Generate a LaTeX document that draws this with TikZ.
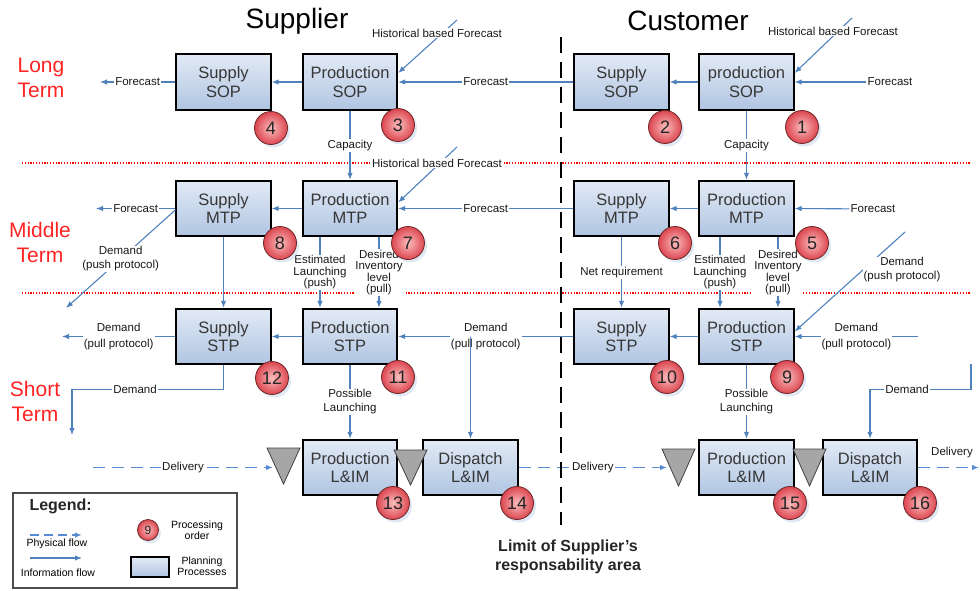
\documentclass[tikz,border=0pt]{standalone}
\usepackage{fontspec}
\setmainfont{Liberation Sans}
\usetikzlibrary{arrows.meta,shadows,calc}
\definecolor{ablue}{RGB}{79,129,189}
\definecolor{pblue}{RGB}{88,140,210}
\definecolor{boxtop}{RGB}{226,234,245}
\definecolor{boxbot}{RGB}{176,197,226}
\definecolor{numin}{RGB}{250,190,190}
\definecolor{numout}{RGB}{220,70,80}
\definecolor{numdraw}{RGB}{110,40,40}
\definecolor{txtgray}{RGB}{55,55,55}
\definecolor{trigray}{RGB}{166,166,166}
\definecolor{termred}{RGB}{255,35,35}
\newcommand{\ffBox}{\fontsize{16.5}{18.5}\selectfont}
\newcommand{\ffLbl}{\fontsize{11.5}{14}\selectfont}
\newcommand{\ffLblT}{\fontsize{11.5}{11.5}\selectfont}
\newcommand{\ffLblW}{\fontsize{11.5}{16}\selectfont}
\newcommand{\ffNum}{\fontsize{18}{18}\selectfont}
\newcommand{\ffNumS}{\fontsize{12}{12}\selectfont}
\newcommand{\ffTitle}{\fontsize{28}{30}\selectfont}
\newcommand{\ffTerm}{\fontsize{21}{25}\selectfont}
\newcommand{\ffLim}{\fontsize{16}{19}\selectfont\bfseries}
\newcommand{\ffLegT}{\fontsize{16}{18}\selectfont\bfseries}
\newcommand{\ffLeg}{\fontsize{10.5}{11.5}\selectfont}
\begin{document}
\begin{tikzpicture}[x=1pt,y=-1pt,
  info/.style={draw=ablue,line width=1.1pt,-{Latex[length=7pt,width=5.5pt]}},
  phys/.style={info,draw=pblue,line width=1.4pt,dash pattern=on 12pt off 7pt},
  lbl/.style={font=\ffLbl,fill=white,inner sep=1pt,align=center,text=black!90},
  lblt/.style={lbl,font=\ffLblT},
  lblw/.style={lbl,font=\ffLblW},
  pbox/.style={draw=black,line width=1.8pt,top color=boxtop,bottom color=boxbot,minimum width=94.5pt,minimum height=55.5pt,inner sep=0pt,align=center,font=\ffBox,text=txtgray},
  num/.style={circle,draw=numdraw,line width=0.8pt,inner color=numin,outer color=numout,minimum size=33pt,inner sep=0pt,font=\ffNum,text=black!85,drop shadow={fill=ablue!35,opacity=0.5,shadow xshift=2.5pt,shadow yshift=-3pt}},
  term/.style={font=\ffTerm,text=termred,align=center},
  tri/.style={fill=trigray,draw=gray!50!black,line width=0.8pt},
  sepline/.style={red,line width=1.2pt,dash pattern=on 1.2pt off 1.6pt},
  limit/.style={black,line width=2.2pt,dash pattern=on 16pt off 9pt},
]
\useasboundingbox (0,0) rectangle (980,591);

% separators
\draw[sepline] (22,163) -- (970,163);
\draw[sepline] (22,293) -- (970,293);

% titles and terms
\node[font=\ffTitle] (tSup) at (297,21) {Supplier};
\node[font=\ffTitle] (tCus) at (688,21) {Customer};
\node[term] (tLong) at (41,78) {Long\\Term};
\node[term] (tMid) at (40,242) {Middle\\Term};
\node[term] (tShort) at (35,401) {Short\\Term};

% boxes
\node[pbox] (sSupSOP) at (223.5,82) {Supply\\SOP};
\node[pbox] (sProdSOP) at (350,82) {Production\\SOP};
\node[pbox] (cSupSOP) at (621.5,82) {Supply\\SOP};
\node[pbox] (cProdSOP) at (746.5,82) {production\\SOP};
\node[pbox] (sSupMTP) at (223.5,208.5) {Supply\\MTP};
\node[pbox] (sProdMTP) at (350,208.5) {Production\\MTP};
\node[pbox] (cSupMTP) at (621.5,208.5) {Supply\\MTP};
\node[pbox] (cProdMTP) at (746.5,208.5) {Production\\MTP};
\node[pbox] (sSupSTP) at (223.5,336.5) {Supply\\STP};
\node[pbox] (sProdSTP) at (350,336.5) {Production\\STP};
\node[pbox] (cSupSTP) at (621.5,336.5) {Supply\\STP};
\node[pbox] (cProdSTP) at (746.5,336.5) {Production\\STP};
\node[pbox] (sProdLIM) at (350,467.5) {Production\\L\&IM};
\node[pbox] (sDisp) at (470.5,467.5) {Dispatch\\L\&IM};
\node[pbox] (cProdLIM) at (746.5,467.5) {Production\\L\&IM};
\node[pbox] (cDisp) at (870,467.5) {Dispatch\\L\&IM};

% ---- Long term
\coordinate (fcL1) at (100,82);
\draw[info] (sSupSOP.west) -- node[lbl]{Forecast} (fcL1);
\draw[info] (sProdSOP.west) -- (sSupSOP.east);
\draw[info] (cSupSOP.west) -- node[lbl]{Forecast} (sProdSOP.east);
\coordinate (hfS1) at (457,20);
\draw[info] (hfS1) -- ([yshift=9pt]sProdSOP.east);
\node[lbl] (hfS1L) at (437,33) {Historical based Forecast};
\draw[info] (sProdSOP.south) -- node[lbl]{Capacity} (sProdMTP.north);
\draw[info] (cProdSOP.west) -- (cSupSOP.east);
\node[lbl] (cfcL) at (890,82) {Forecast};
\draw[info] (cfcL) -- (cProdSOP.east);
\coordinate (hfC1) at (852,18);
\draw[info] (hfC1) -- ([yshift=9pt]cProdSOP.east);
\node[lbl] (hfC1L) at (833,31) {Historical based Forecast};
\draw[info] (cProdSOP.south) -- node[lbl]{Capacity} (cProdMTP.north);

% ---- Middle term
\coordinate (fcM1) at (96,208.5);
\draw[info] (sSupMTP.west) -- node[lbl]{Forecast} (fcM1);
\draw[info] (sProdMTP.west) -- (sSupMTP.east);
\draw[info] (cSupMTP.west) -- node[lbl]{Forecast} (sProdMTP.east);
\coordinate (hfS2) at (457,147);
\draw[info] (hfS2) -- ([yshift=6pt]sProdMTP.east);
\node[lbl] (hfS2L) at (437,163) {Historical based Forecast};
\coordinate (dpS) at (66,308);
\draw[info] ([yshift=-1.5pt]sSupMTP.west) -- node[lbl]{Demand\\(push protocol)} (dpS);
\draw[info] (sSupMTP.south) -- (sSupSTP.north);
\draw[info] ([xshift=-30pt]sProdMTP.south) -- node[lblt]{Estimated\\Launching\\(push)} ([xshift=-30pt]sProdSTP.north);
\draw[info] ([xshift=29pt]sProdMTP.south) -- node[lblt]{Desired\\Inventory\\level\\(pull)} ([xshift=29pt]sProdSTP.north);
\draw[info] (cProdMTP.west) -- (cSupMTP.east);
\node[lbl] (cfcM) at (873,209) {Forecast};
\draw[info] (cfcM) -- (cProdMTP.east);
\draw[info] (cSupMTP.south) -- node[lbl]{Net requirement} (cSupSTP.north);
\draw[info] ([xshift=-26.5pt]cProdMTP.south) -- node[lblt]{Estimated\\Launching\\(push)} ([xshift=-26.5pt]cProdSTP.north);
\draw[info] ([xshift=31.5pt]cProdMTP.south) -- node[lblt]{Desired\\Inventory\\level\\(pull)} ([xshift=31.5pt]cProdSTP.north);
\coordinate (dpC) at (905,232);
\draw[info] (dpC) -- ([yshift=5pt]cProdSTP.east);
\node[lbl] (dpCL) at (902,270) {Demand\\(push protocol)};

% ---- Short term
\coordinate (dlS) at (62,336.5);
\draw[info] (sSupSTP.west) -- node[lblw]{Demand\\(pull protocol)} (dlS);
\draw[info] (sProdSTP.west) -- (sSupSTP.east);
\draw[info] (cSupSTP.west) -- node[lblw]{Demand\\(pull protocol)} (sProdSTP.east);
\draw[info] (sDisp.north |- sProdSTP.east) -- (sDisp.north);
\coordinate (dsA) at (72,389.5);
\coordinate (dsB) at (72,435);
\draw[info] (sSupSTP.south) |- (dsA) -- (dsB);
\node[lbl] (dsL) at (135,389.5) {Demand};
\draw[info] (sProdSTP.south) -- node[lbl]{Possible\\Launching} (sProdLIM.north);
\draw[info] (cProdSTP.west) -- (cSupSTP.east);
\coordinate (dlC) at (918,336.5);
\draw[info] (dlC) -- node[lblw]{Demand\\(pull protocol)} (cProdSTP.east);
\coordinate (dcA) at (971,364);
\coordinate (dcB) at (971,389.5);
\draw[info] (dcA) -- (dcB) -| (cDisp.north);
\node[lbl] (dcL) at (907,389.5) {Demand};
\draw[info] (cProdSTP.south) -- node[lbl]{Possible\\Launching} (cProdLIM.north);

% ---- L&IM row
\coordinate (dv0) at (93,467.5);
\coordinate (t1w) at (273,467.5);
\draw[phys] (dv0) -- node[lbl]{Delivery} (t1w);
\coordinate (t3w) at (667,467.5);
\draw[phys] (sDisp.east) -- node[lbl]{Delivery} (t3w);
\coordinate (dvE) at (979,467.5);
\draw[phys] (cDisp.east) -- (dvE);
\node[lbl,fill=none] (dvEL) at (952,453) {Delivery};
\draw[tri] (267,448) -- (300,448) -- (283.5,484) -- cycle;
\draw[tri] (394,450) -- (427,450) -- (410.5,485) -- cycle;
\draw[tri] (662,449) -- (695,449) -- (678.5,486) -- cycle;
\draw[tri] (793,449) -- (826,449) -- (809.5,486) -- cycle;

% limit line
\draw[limit] (561,37) -- (561,525);
\node[font=\ffLim,align=center,text=black!85] (limL) at (568,557) {Limit of Supplier’s\\responsability area};

% numbers
\node[num] (n1) at (802,127) {1};
\node[num] (n2) at (665,127) {2};
\node[num] (n3) at (398,125) {3};
\node[num] (n4) at (271,128) {4};
\node[num] (n5) at (812,243) {5};
\node[num] (n6) at (675,243) {6};
\node[num] (n7) at (408,243) {7};
\node[num] (n8) at (280,243) {8};
\node[num] (n9) at (787,377) {9};
\node[num] (n10) at (667,377) {10};
\node[num] (n11) at (398,377) {11};
\node[num] (n12) at (272,378) {12};
\node[num] (n13) at (393,503) {13};
\node[num] (n14) at (517,503) {14};
\node[num] (n15) at (790,503) {15};
\node[num] (n16) at (920,503) {16};

% legend
\node[draw=black!70,line width=1.2pt,minimum width=224pt,minimum height=95pt,inner sep=0pt] (leg) at (125,540.5) {};
\node[font=\ffLegT,anchor=west,text=black!85] (legT) at (26,506) {Legend:};
\coordinate (lp1) at (30,535);
\coordinate (lp2) at (82,535);
\draw[phys,dash pattern=on 9pt off 5pt] (lp1) -- (lp2);
\node[font=\ffLeg] (lpT) at (57,544) {Physical flow};
\coordinate (li1) at (30,558);
\coordinate (li2) at (82,558);
\draw[info] (li1) -- (li2);
\node[font=\ffLeg] (liT) at (58,573) {Information flow};
\node[num,minimum size=21pt,font=\ffNumS] (legN) at (148,530) {9};
\node[font=\ffLeg,align=center] (legNT) at (197,530) {Processing\\order};
\node[pbox,minimum width=38pt,minimum height=20pt,line width=1.5pt] (legB) at (150,567) {};
\node[font=\ffLeg,align=center] (legBT) at (202,566) {Planning\\Processes};
\end{tikzpicture}
\end{document}
